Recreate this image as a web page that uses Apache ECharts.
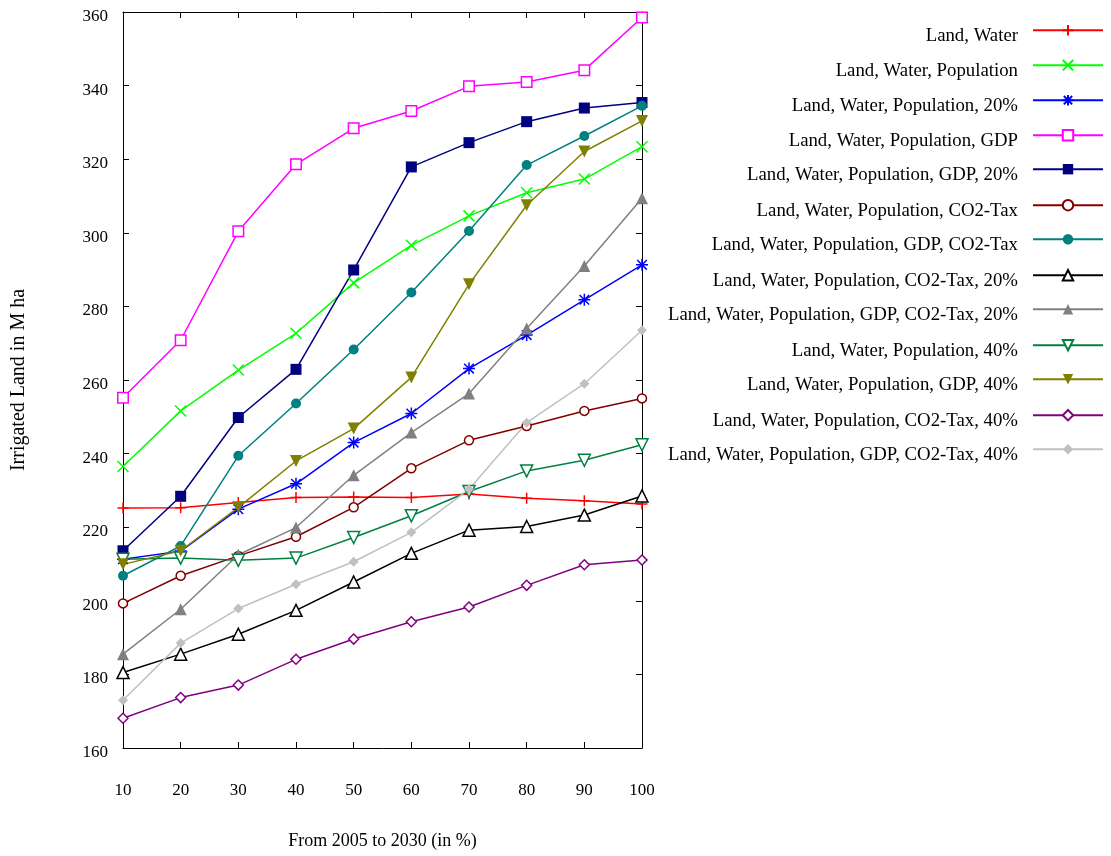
<!DOCTYPE html>
<html>
<head>
<meta charset="utf-8">
<script src="https://cdn.jsdelivr.net/npm/echarts@6/dist/echarts.min.js"></script>
<style>html,body{margin:0;padding:0;background:#fff;}#c{width:1111px;height:856px;}</style>
</head>
<body>
<div id="c"></div>
<script>
const xValues = [10, 20, 30, 40, 50, 60, 70, 80, 90, 100];
const seriesNames = [
  'Land, Water',
  'Land, Water, Population',
  'Land, Water, Population, 20%',
  'Land, Water, Population, GDP',
  'Land, Water, Population, GDP, 20%',
  'Land, Water, Population, CO2-Tax',
  'Land, Water, Population, GDP, CO2-Tax',
  'Land, Water, Population, CO2-Tax, 20%',
  'Land, Water, Population, GDP, CO2-Tax, 20%',
  'Land, Water, Population, 40%',
  'Land, Water, Population, GDP, 40%',
  'Land, Water, Population, CO2-Tax, 40%',
  'Land, Water, Population, GDP, CO2-Tax, 40%'
];
const landWater = [225.2, 225.3, 226.7, 228.1, 228.2, 228.1, 229.0, 227.9, 227.2, 226.3];
const lwPop = [236.5, 251.6, 262.7, 272.7, 286.4, 296.6, 304.6, 310.9, 314.6, 323.4];
const lwPop20 = [211.3, 213.5, 224.9, 231.8, 243.0, 250.9, 263.1, 272.2, 281.8, 291.3];
const lwPopGdp = [255.2, 270.8, 300.4, 318.6, 328.4, 333.1, 339.8, 341.0, 344.2, 358.5];
const lwPopGdp20 = [213.6, 228.4, 249.8, 262.9, 289.9, 317.9, 324.5, 330.2, 333.9, 335.4];
const lwPopCo2 = [199.3, 206.8, 212.2, 217.4, 225.4, 236.0, 243.6, 247.5, 251.6, 255.0];
const lwPopGdpCo2 = [206.8, 214.9, 239.4, 253.6, 268.3, 283.8, 300.5, 318.4, 326.3, 334.5];
const lwPopCo2_20 = [180.5, 185.5, 190.9, 197.4, 205.1, 212.9, 219.2, 220.2, 223.3, 228.5];
const lwPopGdpCo2_20 = [185.5, 197.7, 212.5, 219.9, 234.1, 245.7, 256.3, 274.0, 291.0, 309.4];
const lwPop40 = [211.3, 211.6, 211.0, 211.6, 217.2, 223.1, 229.7, 235.3, 238.2, 242.4];
const lwPopGdp40 = [209.9, 213.6, 225.4, 238.0, 246.8, 260.7, 286.0, 307.5, 322.1, 330.4];
const lwPopCo2_40 = [168.1, 173.7, 177.1, 184.1, 189.6, 194.3, 198.3, 204.2, 209.8, 211.1];
const lwPopGdpCo2_40 = [173.0, 188.5, 197.9, 204.5, 210.6, 218.6, 230.3, 248.4, 259.0, 273.5];
const yTicks = [160, 180, 200, 220, 240, 260, 280, 300, 320, 340, 360];

const allValues = [landWater, lwPop, lwPop20, lwPopGdp, lwPopGdp20, lwPopCo2, lwPopGdpCo2,
  lwPopCo2_20, lwPopGdpCo2_20, lwPop40, lwPopGdp40, lwPopCo2_40, lwPopGdpCo2_40];

const colors = ['#ff0000', '#00ff00', '#0000ff', '#ff00ff', '#000080', '#800000', '#008080',
  '#000000', '#808080', '#008040', '#808000', '#800080', '#c0c0c0'];

const styles = [
  { s: 'path://M0,-5L0,5M-5,0L5,0', size: 11, kind: 'stroke' },
  { s: 'path://M-5,-5L5,5M-5,5L5,-5', size: 11, kind: 'stroke' },
  { s: 'path://M-5,0L5,0M0,-5L0,5M-4,-4L4,4M-4,4L4,-4', size: 12, kind: 'stroke' },
  { s: 'rect', size: 10.5, kind: 'hollow' },
  { s: 'rect', size: 11, kind: 'fill' },
  { s: 'circle', size: 9, kind: 'hollow' },
  { s: 'circle', size: 10, kind: 'fill' },
  { s: 'triangle', size: 12, kind: 'hollow' },
  { s: 'triangle', size: 12, kind: 'fill' },
  { s: 'triangle', size: 12, kind: 'hollow', rot: 180 },
  { s: 'triangle', size: 12, kind: 'fill', rot: 180 },
  { s: 'diamond', size: 10, kind: 'hollow' },
  { s: 'diamond', size: 10, kind: 'fill' }
];

const FONT = 'Liberation Serif';

const series = allValues.map((vals, i) => {
  const st = styles[i];
  let itemStyle;
  if (st.kind === 'hollow') itemStyle = { color: '#ffffff', borderColor: colors[i], borderWidth: 1.5 };
  else if (st.kind === 'stroke') itemStyle = { color: colors[i], borderColor: colors[i], borderWidth: 1.5 };
  else itemStyle = { color: colors[i], borderWidth: 0 };
  return {
    name: seriesNames[i],
    type: 'line',
    data: xValues.map((x, j) => [x, vals[j]]),
    symbol: st.s,
    symbolSize: st.size,
    symbolRotate: st.rot || 0,
    showAllSymbol: true,
    lineStyle: { color: colors[i], width: 1.5 },
    itemStyle: itemStyle,
    emphasis: { disabled: true },
    animation: false
  };
});

const legends = seriesNames.map((n, i) => ({
  data: [n],
  orient: 'horizontal',
  align: 'right',
  right: 2,
  top: 19 + 35 * i,
  itemWidth: 70,
  itemHeight: 13,
  selectedMode: false,
  formatter: '{a|{name}}',
  textStyle: {
    fontFamily: FONT, fontSize: 18.8, color: '#000',
    rich: { a: { fontFamily: FONT, fontSize: 18.8, color: '#000', lineHeight: 30, verticalAlign: 'bottom', padding: [0, 10, 0, 0] } }
  }
}));

const axisLineStyle = { color: '#000', width: 1 };

const option = {
  backgroundColor: '#fff',
  animation: false,
  grid: { left: 123, right: 469, top: 12, bottom: 108, containLabel: false },
  legend: legends,
  xAxis: [
    {
      type: 'value', min: 10, max: 100, interval: 10,
      name: 'From 2005 to 2030 (in %)', nameLocation: 'middle', nameGap: 84,
      nameTextStyle: { fontFamily: FONT, fontSize: 18, color: '#000' },
      axisLine: { lineStyle: axisLineStyle },
      axisTick: { inside: true, length: 6, lineStyle: axisLineStyle },
      axisLabel: { margin: 34, fontFamily: FONT, fontSize: 17, color: '#000' },
      splitLine: { show: false }
    },
    {
      type: 'value', min: 10, max: 100, interval: 10, position: 'top',
      axisLine: { lineStyle: axisLineStyle },
      axisTick: { inside: true, length: 6, lineStyle: axisLineStyle },
      axisLabel: { show: false },
      splitLine: { show: false }
    }
  ],
  yAxis: [
    {
      type: 'value', min: yTicks[0], max: yTicks[yTicks.length - 1], interval: 20,
      name: 'Irrigated Land in M ha', nameLocation: 'middle', nameGap: 94, nameRotate: 90,
      nameTextStyle: { fontFamily: FONT, fontSize: 20, color: '#000' },
      axisLine: { show: true, lineStyle: axisLineStyle },
      axisTick: { show: true, inside: true, length: 6, lineStyle: axisLineStyle },
      axisLabel: { margin: 15, fontFamily: FONT, fontSize: 17, color: '#000', verticalAlign: 'top', lineHeight: 9 },
      splitLine: { show: false }
    },
    {
      type: 'value', min: yTicks[0], max: yTicks[yTicks.length - 1], interval: 20, position: 'right',
      axisLine: { show: true, lineStyle: axisLineStyle },
      axisTick: { show: true, inside: true, length: 6, lineStyle: axisLineStyle },
      axisLabel: { show: false },
      splitLine: { show: false }
    }
  ],
  series: series
};

const chart = echarts.init(document.getElementById('c'), null, { renderer: 'canvas' });
chart.setOption(option);
</script>
</body>
</html>
